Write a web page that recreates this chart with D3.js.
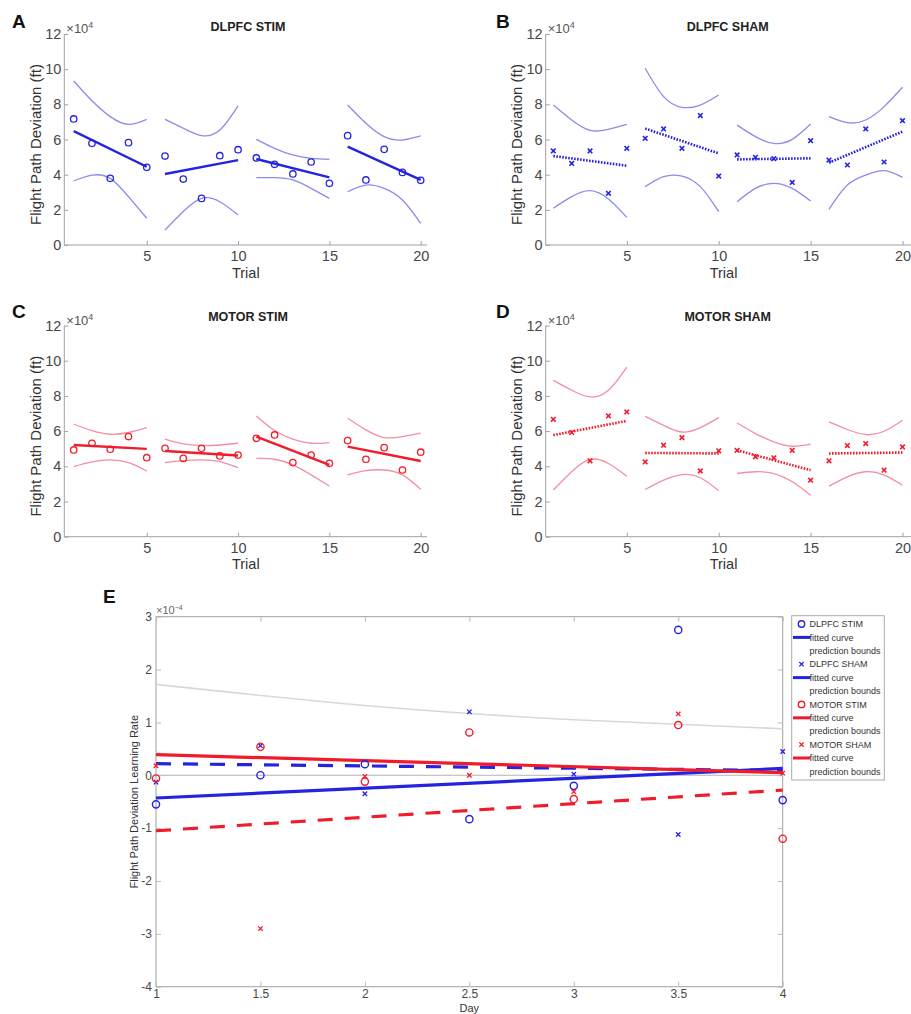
<!DOCTYPE html>
<html>
<head>
<meta charset="utf-8">
<script src="https://cdn.jsdelivr.net/npm/d3@7"></script>
<style>
  body { margin: 0; background: #fff; }
  svg { display: block; }
  text { font-family: "Liberation Sans", Arial, Helvetica, sans-serif; }
</style>
</head>
<body>
<svg id="fig" width="911" height="1014"></svg>
<script>
// ---------- Trial panels (A-D): flight path deviation, x10^4 ft ----------
const trialNumbers = [1, 2, 3, 4, 5, 6, 7, 8, 9, 10, 11, 12, 13, 14, 15, 16, 17, 18, 19, 20];
const blockRanges = [[1, 5], [6, 10], [11, 15], [16, 20]];
const trialXTicks = [5, 10, 15, 20];
const trialYTicks = [0, 2, 4, 6, 8, 10, 12];

// DLPFC STIM
const dlpfcStimValues = [7.17, 5.78, 3.79, 5.82, 4.42, 5.06, 3.75, 2.65, 5.08, 5.42, 4.95, 4.59, 4.04, 4.72, 3.51, 6.22, 3.70, 5.44, 4.13, 3.68];
const dlpfcStimFit = [[6.48, 4.45], [4.04, 4.83], [4.89, 3.85], [5.59, 3.70]];
const dlpfcStimUpper = [9.33, 8.20, 7.30, 6.86, 7.15, 7.15, 6.64, 6.22, 6.54, 7.91, 6.01, 5.50, 5.12, 4.93, 4.87, 7.96, 6.92, 6.16, 5.97, 6.20];
const dlpfcStimLower = [3.64, 3.97, 3.79, 2.75, 1.52, 0.85, 1.90, 2.65, 2.46, 1.71, 3.83, 3.83, 3.70, 3.22, 2.65, 3.03, 3.41, 3.22, 2.56, 1.23];

// DLPFC SHAM
const dlpfcShamValues = [5.35, 4.64, 5.35, 2.94, 5.50, 6.07, 6.60, 5.50, 7.36, 3.92, 5.12, 4.99, 4.91, 3.56, 5.93, 4.83, 4.55, 6.60, 4.72, 7.07];
const dlpfcShamFit = [[5.06, 4.51], [6.62, 5.21], [4.87, 4.93], [4.68, 6.45]];
const dlpfcShamUpper = [7.96, 7.11, 6.52, 6.58, 6.86, 10.05, 8.44, 7.83, 7.96, 8.53, 6.82, 6.16, 5.78, 6.01, 6.88, 7.30, 6.96, 7.11, 7.87, 8.97];
const dlpfcShamLower = [2.09, 2.75, 3.09, 2.62, 1.57, 3.32, 3.89, 3.92, 3.32, 1.90, 2.46, 3.22, 3.51, 3.22, 2.50, 2.03, 3.41, 3.98, 4.23, 3.85];

// MOTOR STIM
const motorStimValues = [4.93, 5.31, 4.97, 5.69, 4.49, 5.02, 4.45, 5.02, 4.59, 4.64, 5.59, 5.78, 4.21, 4.64, 4.17, 5.46, 4.40, 5.06, 3.79, 4.80];
const motorStimFit = [[5.21, 4.99], [4.87, 4.61], [5.69, 4.08], [5.12, 4.30]];
const motorStimUpper = [6.39, 6.03, 5.82, 5.92, 6.20, 5.54, 5.27, 5.18, 5.21, 5.31, 6.86, 6.03, 5.54, 5.31, 5.35, 6.73, 6.07, 5.63, 5.69, 5.88];
const motorStimLower = [3.98, 4.25, 4.36, 4.21, 3.73, 4.21, 4.32, 4.36, 4.27, 3.92, 4.45, 4.40, 4.08, 3.51, 2.88, 3.51, 3.75, 3.79, 3.51, 2.69];

// MOTOR SHAM
const motorShamValues = [6.67, 5.92, 4.31, 6.86, 7.09, 4.25, 5.20, 5.63, 3.74, 4.88, 4.91, 4.54, 4.48, 4.91, 3.21, 4.31, 5.18, 5.29, 3.78, 5.10];
const motorShamFit = [[5.77, 6.58], [4.76, 4.73], [4.91, 3.78], [4.73, 4.78]];
const motorShamUpper = [8.88, 8.32, 7.94, 8.32, 9.64, 6.84, 6.33, 5.95, 6.20, 6.77, 6.46, 5.86, 5.39, 5.14, 5.26, 6.52, 6.09, 5.80, 5.99, 6.62];
const motorShamLower = [2.65, 3.69, 4.39, 4.16, 3.44, 2.68, 3.21, 3.53, 3.35, 2.61, 3.59, 3.69, 3.59, 3.12, 2.36, 2.87, 3.40, 3.69, 3.50, 2.93];

// ---------- Panel E: learning rate per day, x10^-4 ----------
const days = [1, 1.5, 2, 2.5, 3, 3.5, 4];
const dayYTicks = [-4, -3, -2, -1, 0, 1, 2, 3];
const rateDlpfcStim = [-0.55, 0.00, 0.21, -0.83, -0.20, 2.75, -0.47];
const rateDlpfcSham = [-0.13, 0.56, -0.35, 1.20, 0.02, -1.12, 0.45];
const rateMotorStim = [-0.06, 0.54, -0.12, 0.81, -0.45, 0.95, -1.20];
const rateMotorSham = [0.18, -2.90, -0.02, 0.00, -0.31, 1.16, 0.04];
const fitDays = [1, 4];
const rateFitDlpfcStim = [-0.43, 0.13];
const rateFitDlpfcSham = [0.22, 0.09];
const rateFitMotorStim = [0.39, 0.05];
const rateFitMotorSham = [-1.05, -0.28];
const boundDays = [1, 2, 3, 4];
const rateBoundUpper = [1.72, 1.32, 1.05, 0.88];
const legendLabels = ["DLPFC STIM", "fitted curve", "prediction bounds",
                      "DLPFC SHAM", "fitted curve", "prediction bounds",
                      "MOTOR STIM", "fitted curve", "prediction bounds",
                      "MOTOR SHAM", "fitted curve", "prediction bounds"];

// ---------- styling ----------
const BLUE = "#2424e0", BLUE_LIGHT = "#7777e8";
const RED = "#f01c2c", RED_LIGHT = "#f27a92";
const AXIS = "#a0a0a0", TICKTXT = "#474747", LABEL = "#333";

const svg = d3.select("#fig");

function xMarker(sel, cx, cy, s, color, w) {
  sel.append("path")
    .attr("d", `M${cx - s},${cy - s}L${cx + s},${cy + s}M${cx - s},${cy + s}L${cx + s},${cy - s}`)
    .attr("stroke", color).attr("stroke-width", w).attr("fill", "none");
}

const trialPanels = [
  { letter: "A", title: "DLPFC STIM", values: dlpfcStimValues, fit: dlpfcStimFit, upper: dlpfcStimUpper, lower: dlpfcStimLower,
    color: BLUE, bound: BLUE_LIGHT, marker: "o", dotted: false,
    frame: { left: 64.3, x1: 73.7, x20: 420.7, right: 427, y0: 245, y12: 34, letterX: 12, letterY: 28, titleX: 248, titleY: 30.5, labelX: 36 } },
  { letter: "B", title: "DLPFC SHAM", values: dlpfcShamValues, fit: dlpfcShamFit, upper: dlpfcShamUpper, lower: dlpfcShamLower,
    color: BLUE, bound: BLUE_LIGHT, marker: "x", dotted: true,
    frame: { left: 545.7, x1: 553.3, x20: 902.5, right: 911, y0: 245, y12: 34, letterX: 496, letterY: 28, titleX: 727.7, titleY: 30.5, labelX: 517 } },
  { letter: "C", title: "MOTOR STIM", values: motorStimValues, fit: motorStimFit, upper: motorStimUpper, lower: motorStimLower,
    color: RED, bound: RED_LIGHT, marker: "o", dotted: false,
    frame: { left: 64.3, x1: 73.7, x20: 420.7, right: 427, y0: 536.7, y12: 325.5, letterX: 12, letterY: 318, titleX: 248, titleY: 321, labelX: 36 } },
  { letter: "D", title: "MOTOR SHAM", values: motorShamValues, fit: motorShamFit, upper: motorShamUpper, lower: motorShamLower,
    color: RED, bound: RED_LIGHT, marker: "x", dotted: true,
    frame: { left: 545.7, x1: 553.3, x20: 902.5, right: 911, y0: 536.7, y12: 325.5, letterX: 496, letterY: 318, titleX: 727.7, titleY: 321, labelX: 517 } }
];

function drawTrialPanel(p) {
  const f = p.frame;
  const x = d3.scaleLinear().domain([1, 20]).range([f.x1, f.x20]);
  const y = d3.scaleLinear().domain([0, 12]).range([f.y0, f.y12]);
  const g = svg.append("g");

  // axes
  const gx = g.append("g").attr("transform", `translate(0,${f.y0})`)
    .call(d3.axisBottom(x).tickValues(trialXTicks).tickSizeInner(-4).tickSizeOuter(0).tickPadding(5.7));
  const gy = g.append("g").attr("transform", `translate(${f.left},0)`)
    .call(d3.axisLeft(y).tickValues(trialYTicks).tickSizeInner(-4).tickSizeOuter(0).tickPadding(3));
  [gx, gy].forEach(a => {
    a.select(".domain").remove();
    a.selectAll(".tick line").attr("stroke", AXIS);
    a.selectAll(".tick text").attr("fill", TICKTXT).attr("font-size", 14.5).attr("font-family", null);
  });
  g.append("line").attr("x1", f.left).attr("x2", f.left).attr("y1", f.y0).attr("y2", y(12))
    .attr("stroke", AXIS).attr("stroke-width", 1);
  g.append("line").attr("x1", f.left).attr("x2", f.right).attr("y1", f.y0).attr("y2", f.y0)
    .attr("stroke", AXIS).attr("stroke-width", 1);

  // exponent
  const ex = g.append("text").attr("x", f.left + 2).attr("y", y(12) - 1)
    .attr("font-size", 13).attr("fill", "#555");
  ex.append("tspan").text("\u00d710");
  ex.append("tspan").attr("dy", -5).attr("font-size", 9).text("4");

  // labels
  g.append("text").attr("x", f.letterX).attr("y", f.letterY).attr("font-size", 19)
    .attr("font-weight", "bold").attr("fill", "#111").text(p.letter);
  g.append("text").attr("x", f.titleX).attr("y", f.titleY).attr("font-size", 12.5)
    .attr("font-weight", "bold").attr("text-anchor", "middle").attr("fill", "#222").text(p.title);
  g.append("text").attr("x", (x(0.5) + f.right) / 2 + (f.right > 900 ? -4 : 0)).attr("y", f.y0 + 32.5)
    .attr("font-size", 14.5).attr("text-anchor", "middle").attr("fill", LABEL).text("Trial");
  g.append("text").attr("transform", `translate(${f.labelX},${(f.y0 + y(12)) / 2 + 5}) rotate(-90)`)
    .attr("dy", "0.35em").attr("font-size", 15).attr("text-anchor", "middle").attr("fill", LABEL)
    .text("Flight Path Deviation (ft)");

  // prediction bounds per block
  const curve = d3.line().x(d => x(d[0])).y(d => y(d[1])).curve(d3.curveNatural);
  blockRanges.forEach(([a, b], bi) => {
    const idx = trialNumbers.map((t, i) => i).filter(i => trialNumbers[i] >= a && trialNumbers[i] <= b);
    [p.upper, p.lower].forEach(arr => {
      g.append("path").attr("d", curve(idx.map(i => [trialNumbers[i], arr[i]])))
        .attr("fill", "none").attr("stroke", p.bound).attr("stroke-width", 1.3).attr("opacity", 0.85);
    });
    // fitted line
    g.append("line")
      .attr("x1", x(a)).attr("y1", y(p.fit[bi][0]))
      .attr("x2", x(b)).attr("y2", y(p.fit[bi][1]))
      .attr("stroke", p.color)
      .attr("stroke-width", p.dotted ? 2.6 : 2.4)
      .attr("stroke-dasharray", p.dotted ? "1.6,1.4" : null);
  });

  // data points
  trialNumbers.forEach((t, i) => {
    const cx = x(t), cy = y(p.values[i]);
    if (p.marker === "o") {
      g.append("circle").attr("cx", cx).attr("cy", cy).attr("r", 3.2)
        .attr("fill", "none").attr("stroke", p.color).attr("stroke-width", 1.3);
    } else {
      xMarker(g, cx, cy, 2.3, p.color, 1.6);
    }
  });
}
trialPanels.forEach(drawTrialPanel);

// ---------- Panel E ----------
(function drawRatePanel() {
  const L = 156, R = 782.7, T = 616.7, B = 986.7;
  const x = d3.scaleLinear().domain([1, 4]).range([L, R]);
  const y = d3.scaleLinear().domain([-4, 3]).range([B, T]);
  const g = svg.append("g");

  // box and ticks on all sides
  g.append("rect").attr("x", L).attr("y", T).attr("width", R - L).attr("height", B - T)
    .attr("fill", "none").attr("stroke", AXIS).attr("stroke-width", 1);
  const gx = g.append("g").attr("transform", `translate(0,${B})`)
    .call(d3.axisBottom(x).tickValues(days).tickFormat(d => String(d)).tickSizeInner(-5).tickSizeOuter(0).tickPadding(3));
  const gy = g.append("g").attr("transform", `translate(${L},0)`)
    .call(d3.axisLeft(y).tickValues(dayYTicks).tickFormat(d => String(d)).tickSizeInner(-5).tickSizeOuter(0).tickPadding(4));
  const gxt = g.append("g").attr("transform", `translate(0,${T})`)
    .call(d3.axisTop(x).tickValues(days).tickFormat("").tickSizeInner(-5).tickSizeOuter(0));
  const gyr = g.append("g").attr("transform", `translate(${R},0)`)
    .call(d3.axisRight(y).tickValues(dayYTicks).tickFormat("").tickSizeInner(-5).tickSizeOuter(0));
  [gx, gy, gxt, gyr].forEach(a => {
    a.select(".domain").remove();
    a.selectAll(".tick line").attr("stroke", "#bbb");
    a.selectAll(".tick text").attr("fill", TICKTXT).attr("font-size", 12).attr("font-family", null);
  });

  // zero reference line
  g.append("line").attr("x1", L).attr("x2", R).attr("y1", y(0)).attr("y2", y(0))
    .attr("stroke", "#b4b4b4").attr("stroke-width", 1);

  // exponent + labels
  const ex = g.append("text").attr("x", L).attr("y", T - 3).attr("font-size", 11).attr("fill", "#666");
  ex.append("tspan").text("\u00d710");
  ex.append("tspan").attr("dy", -4).attr("font-size", 7).text("\u22124");
  g.append("text").attr("x", 103).attr("y", 603).attr("font-size", 19).attr("font-weight", "bold")
    .attr("fill", "#111").text("E");
  g.append("text").attr("x", x(2.5)).attr("y", 1012).attr("font-size", 11).attr("text-anchor", "middle")
    .attr("fill", LABEL).text("Day");
  g.append("text").attr("transform", `translate(134,${y(-0.5)}) rotate(-90)`).attr("dy", "0.35em")
    .attr("font-size", 11).attr("text-anchor", "middle").attr("fill", LABEL)
    .text("Flight Path Deviation Learning Rate");

  // faint prediction bound
  g.append("path")
    .attr("d", d3.line().x((d, i) => x(boundDays[i])).y(d => y(d)).curve(d3.curveNatural)(rateBoundUpper))
    .attr("fill", "none").attr("stroke", "#d8d8d8").attr("stroke-width", 1.6);

  const series = [
    { vals: rateDlpfcStim, fit: rateFitDlpfcStim, color: BLUE, marker: "o", dash: null },
    { vals: rateDlpfcSham, fit: rateFitDlpfcSham, color: BLUE, marker: "x", dash: "15,12" },
    { vals: rateMotorStim, fit: rateFitMotorStim, color: RED, marker: "o", dash: null },
    { vals: rateMotorSham, fit: rateFitMotorSham, color: RED, marker: "x", dash: "15,12" }
  ];
  const fitLine = d3.line().x((d, i) => x(fitDays[i])).y(d => y(d));
  series.forEach(s => {
    g.append("path").attr("d", fitLine(s.fit)).attr("fill", "none")
      .attr("stroke", s.color).attr("stroke-width", 3.2).attr("stroke-dasharray", s.dash);
  });
  series.forEach(s => {
    s.vals.forEach((v, i) => {
      const cx = x(days[i]), cy = y(v);
      if (s.marker === "o") {
        g.append("circle").attr("cx", cx).attr("cy", cy).attr("r", 3.6)
          .attr("fill", "none").attr("stroke", s.color).attr("stroke-width", 1.4);
      } else {
        xMarker(g, cx, cy, 2.2, s.color, 1.3);
      }
    });
  });

  // legend
  const lg = g.append("g");
  lg.append("rect").attr("x", 791.7).attr("y", 615.7).attr("width", 92.6).attr("height", 164.3)
    .attr("fill", "#fff").attr("stroke", "#aaa").attr("stroke-width", 1);
  legendLabels.forEach((lab, i) => {
    const cy = 624 + 13.4 * i;
    const s = series[Math.floor(i / 3)];
    const kind = i % 3;
    if (kind === 0) {
      if (s.marker === "o") {
        lg.append("circle").attr("cx", 801.5).attr("cy", cy).attr("r", 3.2)
          .attr("fill", "none").attr("stroke", s.color).attr("stroke-width", 1.4);
      } else {
        xMarker(lg, 801.5, cy, 2.2, s.color, 1.3);
      }
    } else if (kind === 1) {
      lg.append("line").attr("x1", 793).attr("x2", 810.5).attr("y1", cy).attr("y2", cy)
        .attr("stroke", s.color).attr("stroke-width", 3);
    }
    lg.append("text").attr("x", 809.5).attr("y", cy).attr("dy", "0.35em")
      .attr("font-size", 9).attr("fill", "#333").text(lab);
  });
})();
</script>
</body>
</html>
